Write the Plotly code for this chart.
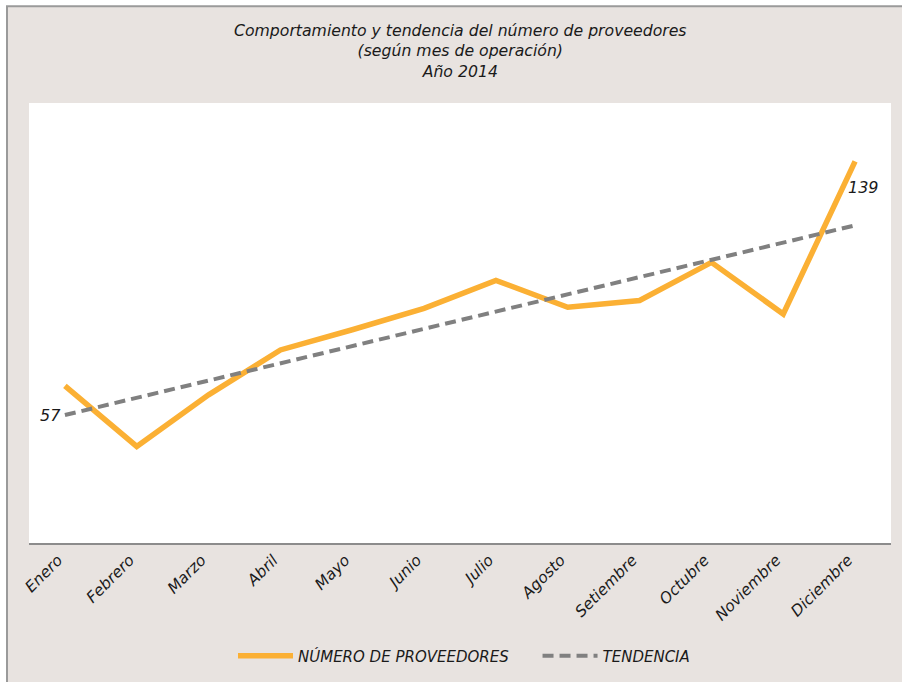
import plotly.graph_objects as go

meses = ["Enero", "Febrero", "Marzo", "Abril", "Mayo", "Junio", "Julio",
         "Agosto", "Setiembre", "Octubre", "Noviembre", "Diciembre"]
proveedores = [70, 43, 66, 86, 95, 104.5, 117, 105, 108, 125, 102, 170]
tendencia_x = ["Enero", "Diciembre"]
tendencia_y = [57, 141.5]
etiqueta_inicio = "57"
etiqueta_fin = "139"
etiqueta_fin_y = 158.3

FONT = "DejaVu Sans"
BEIGE = "#e8e3e0"
TXT = "#1a1a1a"

# body margin removed by post_script; figure fills the 902x682 window
W, H = 902, 682
L, R, T, B = 29, 11, 103, 138
PW, PH = W - L - R, H - T - B
px_x = lambda p: (p - L) / PW          # page pixel -> paper x
px_y = lambda p: (H - B - p) / PH      # page pixel -> paper y

fig = go.Figure()
fig.add_trace(go.Scatter(
    x=meses, y=proveedores, mode="lines",
    name="<i>NÚMERO DE PROVEEDORES</i>&nbsp;&nbsp;&nbsp;&nbsp;&nbsp;",
    line=dict(color="#fbb034", width=5.5)))
fig.add_trace(go.Scatter(
    x=tendencia_x, y=tendencia_y, mode="lines", name="<i>TENDENCIA</i>",
    line=dict(color="#808080", width=4, dash="11px,6px")))

fig.add_annotation(x=0, y=tendencia_y[0], xref="x", yref="y", text="<i>%s</i>" % etiqueta_inicio,
                   showarrow=False, xanchor="right", yanchor="middle", xshift=-2,
                   font=dict(family=FONT, size=16, color=TXT))
fig.add_annotation(x=11, y=etiqueta_fin_y, xref="x", yref="y", text="<i>%s</i>" % etiqueta_fin,
                   showarrow=False, xanchor="left", yanchor="middle", xshift=-9,
                   font=dict(family=FONT, size=16, color=TXT))

# title
fig.add_annotation(x=0.5, y=px_y(51), xref="paper", yref="paper",
                   text="<i>Comportamiento y tendencia del número de proveedores<br>(según mes de operación)<br>Año 2014</i>",
                   showarrow=False, xanchor="center", yanchor="middle", align="center",
                   font=dict(family=FONT, size=15.7, color=TXT))

# white outside strip + frame lines (left and top)
fig.add_shape(type="rect", xref="paper", yref="paper", x0=px_x(-5), x1=px_x(7), y0=px_y(700), y1=px_y(-5),
              fillcolor="white", line=dict(width=0), layer="above")
fig.add_shape(type="rect", xref="paper", yref="paper", x0=px_x(-5), x1=px_x(910), y0=px_y(6), y1=px_y(-5),
              fillcolor="white", line=dict(width=0), layer="above")
fig.add_shape(type="line", xref="paper", yref="paper", x0=px_x(7), x1=px_x(7), y0=px_y(700), y1=px_y(6),
              line=dict(color="#9a9a9a", width=2), layer="above")
fig.add_shape(type="line", xref="paper", yref="paper", x0=px_x(6), x1=px_x(910), y0=px_y(6), y1=px_y(6),
              line=dict(color="#9a9a9a", width=2), layer="above")

fig.update_layout(
    width=W, height=H,
    margin=dict(l=L, r=R, t=T, b=B),
    paper_bgcolor=BEIGE, plot_bgcolor="white",
    font=dict(family=FONT, color=TXT),
    showlegend=True,
    legend=dict(orientation="h", x=px_x(464), xanchor="center", y=px_y(656), yanchor="middle",
                itemwidth=55, bgcolor="rgba(0,0,0,0)",
                font=dict(family=FONT, size=15, color=TXT)),
    xaxis=dict(type="category", categoryorder="array", categoryarray=meses,
               range=[-0.5, 11.5], showgrid=False, zeroline=False,
               showline=True, linecolor="#8c8c8c", linewidth=2, ticks="",
               tickangle=-45, ticklabelshift=-7,
               tickfont=dict(family=FONT, size=15.5, color=TXT),
               tickvals=meses, ticktext=["<i>%s</i>" % m for m in meses]),
    yaxis=dict(range=[0, 196], showgrid=False, zeroline=False, showline=False,
               showticklabels=False, ticks=""),
)

fig.write_html("out.html", config={"displayModeBar": False}, post_script=(
    "document.documentElement.style.overflow='hidden';"
    "document.body.style.overflow='hidden';"
    "document.body.style.margin='0';"))
